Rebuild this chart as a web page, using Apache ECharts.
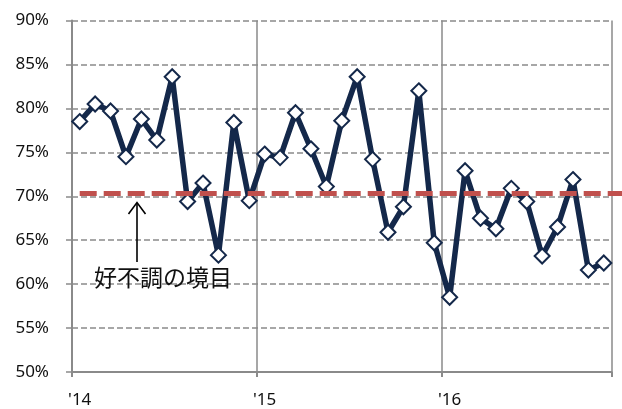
<!DOCTYPE html>
<html>
<head>
<meta charset="utf-8">
<script src="https://cdn.jsdelivr.net/npm/echarts@6/dist/echarts.min.js"></script>
<style>
  html, body { margin: 0; padding: 0; background: #fff; }
  #chart { width: 622px; height: 409px; }
</style>
</head>
<body>
<div id="chart"></div>
<script>
// Monthly ratio (%), Jan 2014 - Nov 2016
const years = ['14', '15', '16'];
const months = ['01', '02', '03', '04', '05', '06', '07', '08', '09', '10', '11', '12'];
const yearTickLabels = ["'14", "'15", "'16"];

const values2014 = [78.5, 80.5, 79.7, 74.5, 78.8, 76.4, 83.6, 69.4, 71.5, 63.3, 78.4, 69.5];
const values2015 = [74.8, 74.4, 79.5, 75.4, 71.1, 78.6, 83.6, 74.2, 65.9, 68.8, 82.0, 64.7];
const values2016 = [58.5, 72.9, 67.5, 66.3, 70.9, 69.4, 63.2, 66.5, 71.9, 61.6, 62.4];

// Boundary between good and bad results
const threshold = 70.3;
const thresholdLabel = '好不調の境目';

const yTickValues = [50, 55, 60, 65, 70, 75, 80, 85, 90];

// Category list: one entry per month that has a value
const ratio = values2014.concat(values2015, values2016);
const categories = [];
years.forEach(y => months.forEach(m => {
  if (categories.length < ratio.length) categories.push(y + '/' + m);
}));

const axisGray = '#8a8a8a';
const labelFont = '"Noto Sans", sans-serif';
const yearStart = (i) => i % 12 === 0;

const chart = echarts.init(document.getElementById('chart'), null, { renderer: 'canvas' });

chart.setOption({
  animation: false,
  backgroundColor: '#ffffff',
  grid: { left: 72, right: 10.5, top: 20.5, bottom: 37, containLabel: false },
  xAxis: {
    type: 'category',
    data: categories,
    boundaryGap: true,
    axisLine: { lineStyle: { color: axisGray, width: 2 } },
    axisTick: { show: true, interval: yearStart, length: 5, lineStyle: { color: axisGray, width: 2 } },
    axisLabel: {
      interval: 0,
      margin: 20,
      color: '#111',
      fontFamily: labelFont,
      fontSize: 17,
      formatter: (v) => {
        const i = categories.indexOf(v);
        return i % 12 === 0 ? yearTickLabels[i / 12] : '';
      }
    },
    splitLine: { show: true, interval: yearStart, lineStyle: { color: axisGray, width: 1.5, type: 'solid' } }
  },
  yAxis: {
    type: 'value',
    min: yTickValues[0],
    max: yTickValues[yTickValues.length - 1],
    interval: 5,
    axisLine: { show: true, lineStyle: { color: axisGray, width: 2 } },
    axisTick: { show: true, length: 6, lineStyle: { color: axisGray, width: 1.5 } },
    axisLabel: {
      margin: 23,
      color: '#111',
      fontFamily: labelFont,
      fontSize: 17,
      padding: [5, 0, 0, 0],
      formatter: '{value}%'
    },
    splitLine: { show: true, lineStyle: { color: axisGray, width: 1.5, type: [6, 3] } }
  },
  series: [
    {
      name: 'ratio',
      type: 'line',
      data: ratio,
      z: 3,
      lineStyle: { color: '#14284a', width: 5.5 },
      symbol: 'diamond',
      symbolSize: 15,
      itemStyle: { color: '#ffffff', borderColor: '#14284a', borderWidth: 2 }
    }
  ]
});

// Boundary line: starts at the first month and runs to the right edge of the chart
const start = chart.convertToPixel({ xAxisIndex: 0, yAxisIndex: 0 }, [0, threshold]);
const chartWidth = chart.getWidth();

chart.setOption({
  graphic: [
    {
      type: 'line',
      z: 100,
      shape: { x1: start[0], y1: start[1], x2: chartWidth, y2: start[1] },
      style: { stroke: '#c0504d', lineWidth: 5, lineDash: [17, 7] }
    },
    {
      type: 'polyline',
      shape: { points: [[137, 262], [137, 203]] },
      style: { stroke: '#000', lineWidth: 1.6, fill: null }
    },
    {
      type: 'polyline',
      shape: { points: [[128.5, 214], [137, 202.5], [145.5, 214]] },
      style: { stroke: '#000', lineWidth: 1.6, fill: null }
    },
    {
      type: 'text',
      x: 163,
      y: 277,
      style: {
        text: thresholdLabel,
        fill: '#111',
        font: '23px "Noto Sans CJK JP", sans-serif',
        align: 'center',
        verticalAlign: 'middle'
      }
    }
  ]
});
</script>
</body>
</html>
